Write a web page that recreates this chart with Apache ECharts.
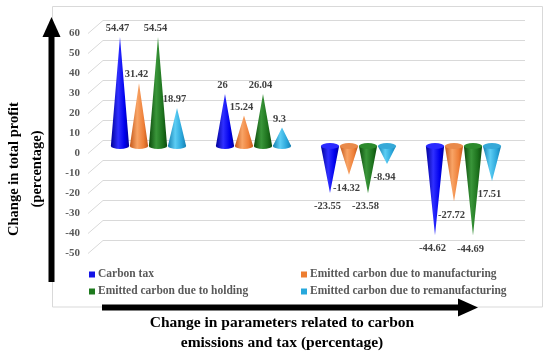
<!DOCTYPE html>
<html><head><meta charset="utf-8">
<script src="https://cdn.jsdelivr.net/npm/echarts@6/dist/echarts.min.js"></script>
<style>html,body{margin:0;padding:0;background:#fff}#c{width:550px;height:356px}</style>
</head><body><div id="c"></div>
<script>
// ---- data ----
const categories = ['Group 1', 'Group 2', 'Group 3', 'Group 4'];
const seriesNames = ['Carbon tax', 'Emitted carbon due to manufacturing', 'Emitted carbon due to holding', 'Emitted carbon due to remanufacturing'];
const carbonTax = [54.47, 26, -23.55, -44.62];
const manufacturing = [31.42, 15.24, -14.32, -27.72];
const holding = [54.54, 26.04, -23.58, -44.69];
const remanufacturing = [18.97, 9.3, -8.94, -17.51];
const labelCarbonTax = ['54.47', '26', '-23.55', '-44.62'];
const labelManufacturing = ['31.42', '15.24', '-14.32', '-27.72'];
const labelHolding = ['54.54', '26.04', '-23.58', '-44.69'];
const labelRemanufacturing = ['18.97', '9.3', '-8.94', '17.51'];
const yTicks = [60, 50, 40, 30, 20, 10, 0, -10, -20, -30, -40, -50];

const seriesValues = [carbonTax, manufacturing, holding, remanufacturing];
const seriesLabels = [labelCarbonTax, labelManufacturing, labelHolding, labelRemanufacturing];
const palette = [
  {legend: '#1414E6', dark: '#00009a', light: '#3030ff', mid: '#0000ee', top: '#2a2aff'},
  {legend: '#ED7D31', dark: '#c4581a', light: '#f8a466', mid: '#ee7f38', top: '#e98a4a'},
  {legend: '#1E7A1E', dark: '#0c4a0c', light: '#3a963a', mid: '#1d721d', top: '#2c8a2c'},
  {legend: '#27A8DC', dark: '#167fb0', light: '#5ccdf4', mid: '#2aa6da', top: '#36a9d8'}
];
const FONT = '"Liberation Serif", "Times New Roman", serif';

function grad(c) {
  return new echarts.graphic.LinearGradient(0, 0, 1, 0, [
    {offset: 0, color: c.dark}, {offset: 0.4, color: c.light},
    {offset: 0.75, color: c.mid}, {offset: 1, color: c.dark}
  ]);
}

function makeRender(si) {
  return function (params, api) {
    const cat = api.value(0), v = api.value(1);
    const base = api.coord([cat, 0]);
    const tip = api.coord([cat, v]);
    const band = api.size([1, 0])[0];
    const step = band * 0.181;
    const hw = step * 0.48;
    const cx = base[0] + (si - 1.5) * step;
    const by = base[1], ty = tip[1];
    const c = palette[si];
    const children = [];
    if (v >= 0) {
      children.push({type: 'circle', shape: {cx: 0, cy: 0, r: hw}, x: cx, y: by, scaleY: 3 / hw, style: {fill: grad(c)}});
      children.push({type: 'polygon', shape: {points: [[cx - hw, by], [cx + hw, by], [cx, ty]]}, style: {fill: grad(c)}});
      children.push({type: 'text', x: cx - 2.5, y: ty - 8.5, style: {text: seriesLabels[si][params.dataIndex], textAlign: 'center', textVerticalAlign: 'middle', font: 'bold 10.5px ' + FONT, fill: '#404040'}});
    } else {
      children.push({type: 'polygon', shape: {points: [[cx - hw, by], [cx + hw, by], [cx, ty]]}, style: {fill: grad(c)}});
      children.push({type: 'circle', shape: {cx: 0, cy: 0, r: hw}, x: cx, y: by, scaleY: 3 / hw, style: {fill: c.top}});
      children.push({type: 'text', x: cx - 2.5, y: ty + 13.5, style: {text: seriesLabels[si][params.dataIndex], textAlign: 'center', textVerticalAlign: 'middle', font: 'bold 10.5px ' + FONT, fill: '#404040'}});
    }
    return {type: 'group', children: children};
  };
}

const chart = echarts.init(document.getElementById('c'), null, {renderer: 'canvas'});
const series = seriesNames.map((name, si) => ({
  name: name, type: 'custom', xAxisIndex: 1, yAxisIndex: 1,
  itemStyle: {color: palette[si].legend},
  renderItem: makeRender(si),
  encode: {x: 0, y: 1},
  data: seriesValues[si].map((v, i) => [i, v]),
  z: 5
}));

const yCommon = {type: 'value', min: -50, max: 60, interval: 10, axisLine: {show: false}, axisTick: {show: false}};
chart.setOption({
  animation: false,
  grid: [
    {left: 103, right: 25, top: 20, height: 220},
    {left: 96, right: 34, top: 26, height: 220},
    {left: 88, right: 30, top: 33, height: 220}
  ],
  xAxis: [
    {type: 'category', gridIndex: 0, data: categories, show: false},
    {type: 'category', gridIndex: 1, data: categories, show: false},
    {type: 'category', gridIndex: 2, data: categories, show: false}
  ],
  yAxis: [
    Object.assign({gridIndex: 0, axisLabel: {show: false}, splitLine: {show: true, lineStyle: {color: '#d9d9d9', width: 1}}}, yCommon),
    Object.assign({gridIndex: 1, axisLabel: {show: false}, splitLine: {show: false}}, yCommon),
    Object.assign({gridIndex: 2, splitLine: {show: false}, axisLabel: {margin: 8, color: '#595959', fontFamily: FONT, fontWeight: 'bold', fontSize: 11}}, yCommon)
  ],
  legend: [
    {orient: 'vertical', left: 89, top: 268.5, padding: 0, itemGap: 5, itemWidth: 6, itemHeight: 6, icon: 'rect',
      data: [seriesNames[0], seriesNames[2]], selectedMode: false,
      textStyle: {fontFamily: FONT, fontWeight: 'bold', fontSize: 11.5, color: '#595959', padding: [0, 0, 0, -2]}},
    {orient: 'vertical', left: 301, top: 268.5, padding: 0, itemGap: 5, itemWidth: 6, itemHeight: 6, icon: 'rect',
      data: [seriesNames[1], seriesNames[3]], selectedMode: false,
      textStyle: {fontFamily: FONT, fontWeight: 'bold', fontSize: 11.5, color: '#595959', padding: [0, 0, 0, -2]}}
  ],
  series: series
});

// decorations: frame, perspective gridline ends, arrows, titles
const g = [];
g.push({type: 'rect', shape: {x: 52.5, y: 6.5, width: 490, height: 300.5}, style: {fill: 'none', stroke: '#d9d9d9', lineWidth: 1}, z: 0});
const gx = 103;
yTicks.forEach(t => {
  const y = Math.round(chart.convertToPixel({yAxisIndex: 0}, t)) + 0.5;
  g.push({type: 'line', shape: {x1: gx - 15, y1: y + 13, x2: gx, y2: y}, style: {stroke: '#d9d9d9', lineWidth: 1}, z: 0});
});
g.push({type: 'rect', shape: {x: 48.5, y: 35, width: 6, height: 247}, style: {fill: '#000'}, z: 10});
g.push({type: 'polygon', shape: {points: [[42.5, 37], [60.5, 37], [51.5, 17]]}, style: {fill: '#000'}, z: 10});
g.push({type: 'rect', shape: {x: 102, y: 304.5, width: 358, height: 6}, style: {fill: '#000'}, z: 10});
g.push({type: 'polygon', shape: {points: [[458, 298.5], [458, 316.5], [478, 307.5]]}, style: {fill: '#000'}, z: 10});
g.push({type: 'text', x: 14.5, y: 169, rotation: Math.PI / 2, style: {text: 'Change in total profit', textAlign: 'center', textVerticalAlign: 'middle', font: 'bold 14.5px ' + FONT, fill: '#000'}, z: 10});
g.push({type: 'text', x: 37.5, y: 169, rotation: Math.PI / 2, style: {text: '(percentage)', textAlign: 'center', textVerticalAlign: 'middle', font: 'bold 14.5px ' + FONT, fill: '#000'}, z: 10});
g.push({type: 'text', x: 282, y: 323, style: {text: 'Change in parameters related to carbon', textAlign: 'center', textVerticalAlign: 'middle', font: 'bold 15.5px ' + FONT, fill: '#000'}, z: 10});
g.push({type: 'text', x: 282, y: 343, style: {text: 'emissions and tax (percentage)', textAlign: 'center', textVerticalAlign: 'middle', font: 'bold 15.5px ' + FONT, fill: '#000'}, z: 10});
chart.setOption({graphic: g});
</script>
</body></html>
